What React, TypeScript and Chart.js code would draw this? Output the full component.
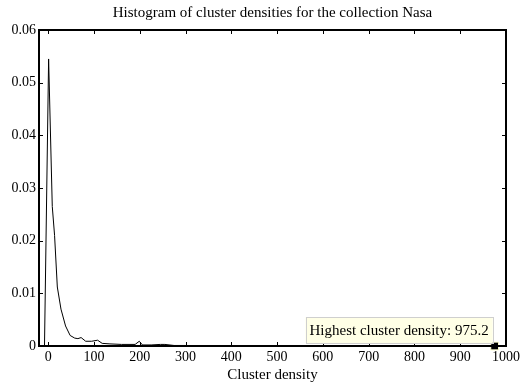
import React, { useEffect, useRef } from "react";
import { Chart, registerables } from "chart.js";

Chart.register(...registerables);

const densityX: number[] = [-8, 1, 9, 14, 20, 28, 38, 48, 58, 65, 72, 82, 95, 108, 118, 135, 160, 190, 199, 206, 225, 245, 255, 275, 300, 350, 400, 500, 700, 975];
const densityY: number[] = [0, 0.0545, 0.0265, 0.021, 0.0112, 0.007, 0.0038, 0.002, 0.0015, 0.0014, 0.0016, 0.0009, 0.0009, 0.0011, 0.0005, 0.0004, 0.0003, 0.0003, 0.0009, 0.0002, 0.0002, 0.0003, 0.0003, 0.0001, 0.0001, 0.00005, 0, 0, 0, 0];
const xTicks: number[] = [0, 100, 200, 300, 400, 500, 600, 700, 800, 900, 1000];
const yTicks: number[] = [0, 0.01, 0.02, 0.03, 0.04, 0.05, 0.06];
const highest = 975.2;
const titleText = "Histogram of cluster densities for the collection Nasa";
const xLabel = "Cluster density";
const noteText = "Highest cluster density: " + highest.toFixed(1);

const FONT = "'Liberation Serif', 'Times New Roman', serif";

const framePlugin = {
  id: "frame",
  afterDraw(chart: any) {
    const ctx = chart.ctx;
    const { left, right, top, bottom } = chart.chartArea;
    const xs = chart.scales.x;
    const ys = chart.scales.y;
    ctx.save();
    ctx.strokeStyle = "#000";
    ctx.lineWidth = 1;
    ctx.beginPath();
    for (const t of xTicks) {
      const px = Math.round(xs.getPixelForValue(t)) + 0.5;
      ctx.moveTo(px, bottom);
      ctx.lineTo(px, bottom - 4);
      ctx.moveTo(px, top);
      ctx.lineTo(px, top + 4);
    }
    for (const t of yTicks) {
      const py = Math.round(ys.getPixelForValue(t)) + 0.5;
      ctx.moveTo(left, py);
      ctx.lineTo(left + 4, py);
      ctx.moveTo(right, py);
      ctx.lineTo(right - 4, py);
    }
    ctx.stroke();
    ctx.lineWidth = 2;
    ctx.strokeRect(left, top, right - left, bottom - top);

    // annotation
    const mx = xs.getPixelForValue(highest);
    const my = ys.getPixelForValue(0);
    ctx.font = "15px " + FONT;
    const w = ctx.measureText(noteText).width;
    const bw = w + 8;
    const bh = 26;
    const bx = mx - 2 - bw;
    const by = my - 3 - bh;
    ctx.fillStyle = "#ffffe6";
    ctx.fillRect(bx, by, bw, bh);
    ctx.strokeStyle = "#cfcfcf";
    ctx.lineWidth = 1;
    ctx.strokeRect(Math.round(bx) + 0.5, Math.round(by) + 0.5, Math.round(bw), bh);
    ctx.fillStyle = "#000";
    ctx.textBaseline = "middle";
    ctx.textAlign = "left";
    ctx.fillText(noteText, bx + 4, by + bh / 2 + 1);

    // title and x label
    ctx.textAlign = "center";
    ctx.textBaseline = "alphabetic";
    ctx.fillText(titleText, (left + right) / 2, 17);
    ctx.fillText(xLabel, (left + right) / 2, 379);
    ctx.restore();
  },
};

export default function App() {
  const ref = useRef<HTMLCanvasElement | null>(null);
  useEffect(() => {
    if (!ref.current) return;
    const chart = new Chart(ref.current, {
      type: "line",
      data: {
        datasets: [
          {
            data: densityX.map((x, i) => ({ x, y: densityY[i] })),
            borderColor: "#000",
            borderWidth: 1,
            pointRadius: 0,
            tension: 0,
          },
          {
            data: [{ x: highest, y: 0 }],
            showLine: false,
            pointStyle: "rect",
            pointRadius: 5.5,
            backgroundColor: "#000",
            borderColor: "#ffffcc",
            borderWidth: 1,
            clip: false,
          } as any,
        ],
      },
      options: {
        animation: false,
        responsive: false,
        maintainAspectRatio: false,
        layout: { padding: { top: 30, right: 16, left: 0, bottom: 0 } },
        plugins: { legend: { display: false }, tooltip: { enabled: false }, title: { display: false } },
        scales: {
          x: {
            type: "linear",
            min: -20,
            max: 1000,
            afterFit: (s: any) => { s.height = 40; },
            afterBuildTicks: (s: any) => { s.ticks = xTicks.map((v) => ({ value: v })); },
            grid: { display: false, drawTicks: false },
            border: { display: false },
            ticks: {
              color: "#000",
              font: { family: FONT, size: 14 },
              padding: 3,
              maxRotation: 0,
              autoSkip: false,
              callback: (v: any) => String(v),
            },
          },
          y: {
            type: "linear",
            min: 0,
            max: 0.06,
            afterFit: (s: any) => { s.width = 39; },
            afterBuildTicks: (s: any) => { s.ticks = yTicks.map((v) => ({ value: v })); },
            grid: { display: false, drawTicks: false },
            border: { display: false },
            ticks: {
              color: "#000",
              font: { family: FONT, size: 14 },
              padding: 3,
              callback: (v: any) => String(Number(v.toFixed(2))),
            },
          },
        },
      },
      plugins: [framePlugin],
    });
    return () => chart.destroy();
  }, []);
  return (
    <div style={{ position: "fixed", left: 0, top: 0, width: 523, height: 386, background: "#fff" }}>
      <canvas ref={ref} width={523} height={386} style={{ display: "block" }} />
    </div>
  );
}
